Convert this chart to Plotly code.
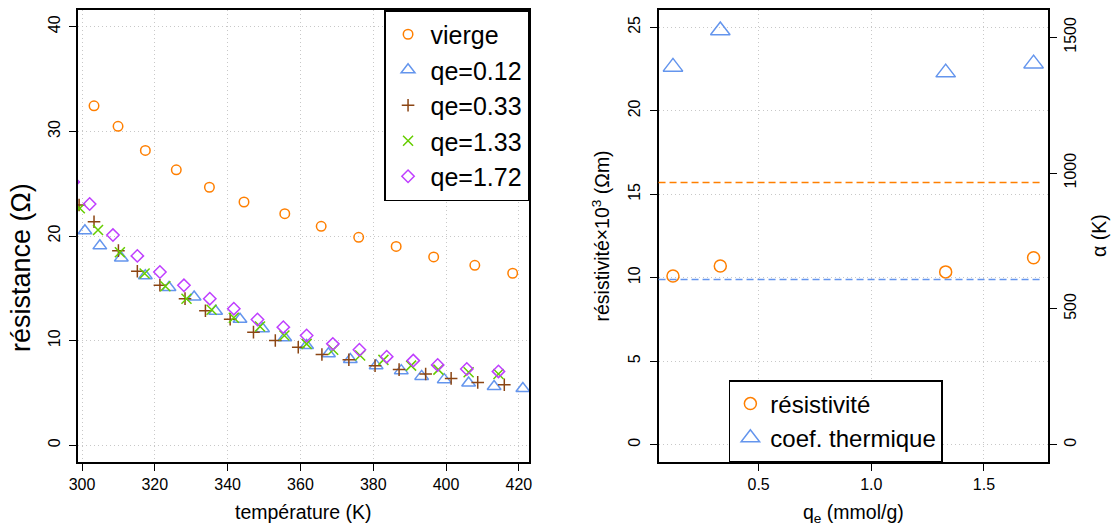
import plotly.graph_objects as go

# ---------------- data: left panel (resistance vs temperature) ----------------
T_vierge = [303.3, 309.9, 317.4, 325.9, 335.0, 344.5, 355.7, 365.7, 376.0, 386.3, 396.6, 407.9, 418.3]
R_vierge = [32.44, 30.48, 28.18, 26.32, 24.66, 23.25, 22.13, 20.92, 19.87, 19.0, 18.0, 17.2, 16.44]

T_q012 = [300.8, 304.9, 310.8, 317.4, 323.9, 330.8, 336.7, 343.4, 349.6, 355.7, 361.7, 367.7, 373.7,
          380.8, 387.7, 393.3, 399.5, 406.2, 413.2, 421.1]
R_q012 = [20.5, 19.06, 17.9, 16.2, 15.07, 14.17, 12.8, 12.05, 11.13, 10.27, 9.53, 8.75, 8.19,
          7.61, 7.13, 6.58, 6.27, 5.95, 5.62, 5.43]

T_q033 = [299.2, 303.3, 310.0, 315.2, 321.4, 328.3, 333.9, 340.7, 347.1, 353.1, 359.4, 365.9, 373.3,
          380.5, 387.1, 394.4, 401.4, 408.7, 416.0]
R_q033 = [22.96, 21.36, 18.6, 16.63, 15.29, 14.01, 12.86, 12.05, 10.81, 10.01, 9.37, 8.67, 8.17,
          7.61, 7.23, 6.81, 6.39, 6.01, 5.79]

T_q133 = [299.4, 304.4, 310.4, 317.2, 322.9, 328.7, 335.6, 341.7, 348.9, 355.6, 361.7, 369.0, 376.4,
          382.8, 390.4, 397.9, 406.2, 414.4]
R_q133 = [22.65, 20.57, 18.44, 16.41, 15.19, 14.01, 12.96, 12.19, 11.35, 10.49, 9.69, 9.13, 8.57,
          8.16, 7.61, 7.23, 6.97, 6.81]

T_q172 = [297.6, 302.1, 308.5, 315.2, 321.4, 328.0, 335.1, 341.7, 348.2, 355.3, 361.7, 368.9, 376.2,
          383.7, 391.0, 397.7, 405.7, 414.4]
R_q172 = [25.17, 23.06, 20.09, 18.1, 16.56, 15.29, 14.01, 13.05, 12.02, 11.29, 10.49, 9.69, 9.13,
          8.47, 8.09, 7.68, 7.29, 7.06]

left_names = ["vierge", "qe=0.12", "qe=0.33", "qe=1.33", "qe=1.72"]

# ---------------- data: right panel (resistivity & thermal coefficient vs qe) --
qe = [0.12, 0.33, 1.33, 1.72]
resistivite = [10.1, 10.7, 10.35, 11.2]        # x10^3 Ohm.m
alpha = [1391, 1525, 1370, 1403]               # K
resistivite_vierge = 15.7
alpha_vierge = 608
right_names = ["résistivité", "coef. thermique"]

# ticks
x_left_ticks = [300, 320, 340, 360, 380, 400, 420]
y_left_ticks = [0, 10, 20, 30, 40]
x_right_ticks = [0.5, 1.0, 1.5]
x_right_labels = ["0.5", "1.0", "1.5"]
y_right_ticks = [0, 5, 10, 15, 20, 25]
y_alpha_ticks = [0, 500, 1000, 1500]

# ---------------- style ----------------
ORANGE = "#FF7F00"
BLUE = "#6495ED"
BROWN = "#8B4513"
GREEN = "#66CD00"
PURPLE = "#BF3EFF"
FONT = "Liberation Sans, Arial, Helvetica, sans-serif"

fig = go.Figure()

left_series = [
    (T_vierge, R_vierge, "circle-open", ORANGE, 9.5),
    (T_q012, R_q012, "triangle-up-open", BLUE, 12),
    (T_q033, R_q033, "cross-thin-open", BROWN, 9),
    (T_q133, R_q133, "x-thin-open", GREEN, 10),
    (T_q172, R_q172, "diamond-open", PURPLE, 9.5),
]
for (xs, ys, sym, col, sz), name in zip(left_series, left_names):
    fig.add_trace(go.Scatter(
        x=xs, y=ys, mode="markers", name=name, xaxis="x", yaxis="y",
        marker=dict(symbol=sym, size=sz, color=col, line=dict(color=col, width=1.5)),
        legend="legend",
    ))

fig.add_trace(go.Scatter(
    x=qe, y=resistivite, mode="markers", name=right_names[0], xaxis="x2", yaxis="y2",
    marker=dict(symbol="circle-open", size=12, color=ORANGE, line=dict(color=ORANGE, width=1.5)),
    legend="legend2",
))
fig.add_trace(go.Scatter(
    x=qe, y=alpha, mode="markers", name=right_names[1], xaxis="x2", yaxis="y3",
    marker=dict(symbol="triangle-up-open", size=17, color=BLUE, line=dict(color=BLUE, width=1.5)),
    legend="legend2",
))

# reference (virgin material) dashed levels
fig.add_shape(type="line", xref="x2 domain", yref="y2", x0=0, x1=0.985,
              y0=resistivite_vierge, y1=resistivite_vierge,
              line=dict(color=ORANGE, width=1.5, dash="7px,4px"))
fig.add_shape(type="line", xref="x2 domain", yref="y3", x0=0, x1=0.985,
              y0=alpha_vierge, y1=alpha_vierge,
              line=dict(color=BLUE, width=1.5, dash="7px,4px"))

tickfont = dict(family=FONT, size=16, color="black")
common = dict(showline=True, linecolor="black", linewidth=1.5, mirror=True,
              ticks="outside", ticklen=7, tickwidth=1, tickcolor="black",
              showgrid=True, gridcolor="#C8C8C8", griddash="1px,3px", gridwidth=1,
              zeroline=False, tickfont=tickfont, automargin=False)

fig.update_layout(
    width=1113, height=526,
    margin=dict(l=78, r=65, t=10, b=64),
    plot_bgcolor="white", paper_bgcolor="white",
    font=dict(family=FONT, color="black"),
    xaxis=dict(domain=[0, 0.465], range=[298.9, 422.8], tickvals=x_left_ticks, anchor="y", **common),
    yaxis=dict(domain=[0, 1], range=[-1.6, 41.6], tickvals=y_left_ticks, tickangle=-90,
               ticklabelstandoff=3, anchor="x", **common),
    xaxis2=dict(domain=[0.5985, 1.0], range=[0.056, 1.784], tickvals=x_right_ticks,
                ticktext=x_right_labels, anchor="y2", **common),
    yaxis2=dict(domain=[0, 1], range=[-1.04, 26.04], tickvals=y_right_ticks, tickangle=-90,
                ticklabelstandoff=3, anchor="x2", **common),
    yaxis3=dict(domain=[0, 1], range=[-64.1, 1600.6], tickvals=y_alpha_ticks, tickangle=-90,
                overlaying="y2", side="right", anchor="x2", automargin=False,
                showline=True, linecolor="black", linewidth=1.5,
                ticks="outside", ticklen=7, tickwidth=1, tickcolor="black",
                showgrid=False, zeroline=False, tickfont=tickfont),
    legend=dict(x=0.465, y=1, xanchor="right", yanchor="top", itemwidth=35,
                bgcolor="white", bordercolor="black", borderwidth=1.5,
                font=dict(family=FONT, size=25, color="black"), tracegroupgap=0),
    legend2=dict(x=0.671, y=0, xanchor="left", yanchor="bottom", bgcolor="white",
                 bordercolor="black", borderwidth=1.5, font=dict(family=FONT, size=24, color="black"),
                 tracegroupgap=0),
)

# axis titles
titles = [
    dict(text="température (K)", xref="x domain", yref="paper", x=0.5, y=0, yshift=-50,
         textangle=0, size=19.5),
    dict(text="résistance (Ω)", xref="paper", yref="paper", x=0, y=0.429, xshift=-57,
         textangle=-90, size=27),
    dict(text="q<sub>e</sub> (mmol/g)", xref="x2 domain", yref="paper", x=0.5, y=0, yshift=-51,
         textangle=0, size=19.5),
    dict(text="résistivité×10<sup>3</sup> (Ωm)", xref="x2 domain", yref="paper", x=0, y=0.5,
         xshift=-58, textangle=-90, size=19.5),
    dict(text="α (K)", xref="x2 domain", yref="paper", x=1, y=0.5, xshift=51,
         textangle=-90, size=19.5),
]
for t in titles:
    fig.add_annotation(text=t["text"], xref=t["xref"], yref=t["yref"], x=t["x"], y=t["y"],
                       xshift=t.get("xshift", 0), yshift=t.get("yshift", 0),
                       xanchor="center", yanchor="middle", textangle=t["textangle"],
                       showarrow=False, font=dict(family=FONT, size=t["size"], color="black"))

fig.write_html("out.html", config={"displayModeBar": False},
               post_script="document.body.style.margin='0px';document.body.style.overflow='hidden';")
